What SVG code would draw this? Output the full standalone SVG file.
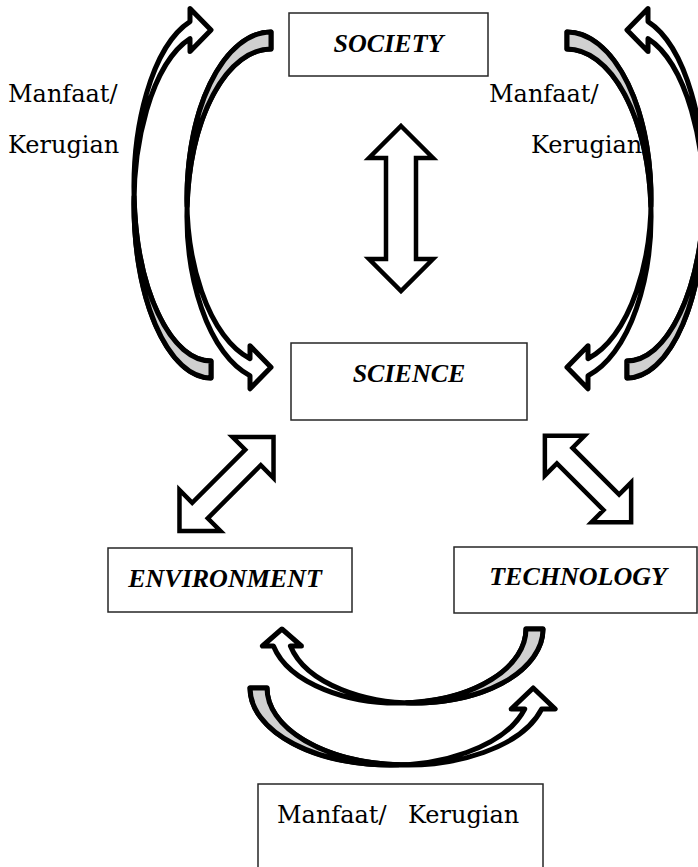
<svg xmlns="http://www.w3.org/2000/svg" width="698" height="867" viewBox="0 0 698 867">
<style>
.box{fill:#fff;stroke:#262626;stroke-width:1.5}
.lbl{font-family:"DejaVu Serif","Liberation Serif",serif;font-size:24px;fill:#000}
.ttl{font-family:"Liberation Serif",serif;font-size:26px;font-weight:bold;font-style:italic;fill:#000;text-anchor:middle}
.arr{fill:#fff;stroke:#000;stroke-width:4.5;stroke-linejoin:miter}
.cv{fill:#fff;stroke:#000;stroke-width:5;stroke-linejoin:round}
.cg{fill:#d0d0d0;stroke:#000;stroke-width:5;stroke-linejoin:round}
</style>
<defs>
<g id="shLI"><path class="cv" d="M0,0 A84,166 0 0 0 -21,326.73 L-21,313.73 L0,335.23 L-21,356.73 L-21,343.73 A84,166 0 0 1 0,17 Z"/><path class="cg" d="M0,0 A84,166 0 0 0 -83.89,174.5 A84,166 0 0 1 0,17 Z"/></g>
<g id="shLO"><path class="cv" d="M0,0 A77,173 0 0 0 -21,339.44 L-21,326.44 L0,347.94 L-21,369.44 L-21,356.44 A77,173 0 0 1 0,17 Z"/><path class="cg" d="M0,0 A77,173 0 0 0 -76.91,181.5 A77,173 0 0 1 0,17 Z"/></g>
<g id="shBL"><path class="cv" d="M0,0 A77,140 0 0 0 -21,274.69 L-21,261.19 L0,283.19 L-21,305.19 L-21,291.69 A77,140 0 0 1 0,17 Z"/><path class="cg" d="M0,0 A77,140 0 0 0 -76.86,148.5 A77,140 0 0 1 0,17 Z"/></g>
<g id="shBU"><path class="cv" d="M0,0 A74,128 0 0 0 -17,252.58 L-17,241.58 L0,261.08 L-17,280.58 L-17,269.58 A74,128 0 0 1 0,17 Z"/><path class="cg" d="M0,0 A74,128 0 0 0 -73.84,136.5 A74,128 0 0 1 0,17 Z"/></g>
</defs>
<rect width="698" height="867" fill="#fff"/>
<g id="labels">
<text class="lbl" x="8" y="102">Manfaat/</text>
<text class="lbl" x="8" y="153">Kerugian</text>
<text class="lbl" x="489" y="102">Manfaat/</text>
<text class="lbl" x="531" y="153">Kerugian</text>
</g>
<g id="society"><rect class="box" x="289" y="13" width="199" height="63"/><text class="ttl" x="388.5" y="52">SOCIETY</text></g>
<g id="science"><rect class="box" x="291" y="343" width="236" height="77"/><text class="ttl" x="409" y="382">SCIENCE</text></g>
<g id="environment"><rect class="box" x="108" y="548" width="244" height="64"/><text class="ttl" x="225" y="587">ENVIRONMENT</text></g>
<g id="technology"><rect class="box" x="454" y="547" width="243" height="66"/><text class="ttl" x="578" y="585">TECHNOLOGY</text></g>
<g id="result"><rect class="box" x="258" y="784" width="285" height="100"/><text class="lbl" x="277" y="823">Manfaat/ <tspan x="408">Kerugian</tspan></text></g>
<g id="connectors">
<use href="#shLI" transform="translate(271,32)"/>
<use href="#shLI" transform="translate(567,32) scale(-1,1)"/>
<use href="#shLO" transform="translate(211,378) scale(1,-1)"/>
<use href="#shLO" transform="translate(627,378) scale(-1,-1)"/>
<use href="#shBL" transform="translate(250,688) rotate(-90)"/>
<use href="#shBU" transform="translate(543,629) scale(-1,1) rotate(-90)"/>
<path class="arr" d="M401,126 L433,158 L416,158 L416,259 L433,259 L401,291 L369,259 L386,259 L386,158 L369,158 Z"/>
<path class="arr" transform="translate(226.5,484) rotate(-45)" d="M66.5,0 L37.5,-29 L37.5,-11 L-37.5,-11 L-37.5,-29 L-66.5,0 L-37.5,29 L-37.5,11 L37.5,11 L37.5,29 Z"/>
<path class="arr" transform="translate(588,479) rotate(45)" d="M61,0 L33,-28 L33,-11 L-33,-11 L-33,-28 L-61,0 L-33,28 L-33,11 L33,11 L33,28 Z"/>
</g>
</svg>
